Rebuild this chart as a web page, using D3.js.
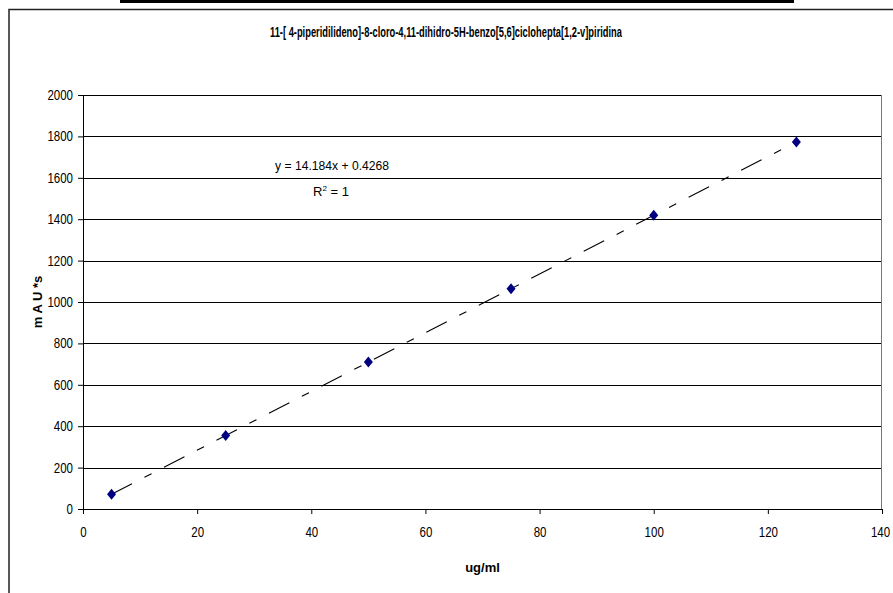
<!DOCTYPE html>
<html>
<head>
<meta charset="utf-8">
<script src="https://cdn.jsdelivr.net/npm/d3@7"></script>
<style>
  body { margin: 0; background: #fff; }
  text { font-family: "Liberation Sans", Arial, sans-serif; fill: #000; }
</style>
</head>
<body>
<script>
var W = 893, H = 593;
var margin = {top: 95, right: 11, bottom: 84, left: 83}
  , width = W - margin.left - margin.right
  , height = H - margin.top - margin.bottom;

// data
var concentracion = [5, 25, 50, 75, 100, 125];   // ug/ml
var area = [71, 355, 710, 1064, 1419, 1773];     // mAU*s
var xTicks = [0, 20, 40, 60, 80, 100, 120, 140];
var yTicks = [0, 200, 400, 600, 800, 1000, 1200, 1400, 1600, 1800, 2000];
var pendiente = 14.184, intercepto = 0.4268;

var svg = d3.select("body").append("svg")
    .attr("width", W)
    .attr("height", H);

// black bar at the very top
svg.append("rect")
    .attr("x", 120).attr("y", 0)
    .attr("width", 674).attr("height", 3)
    .style("fill", "#000");

// chart frame
svg.append("rect")
    .attr("x", 9).attr("y", 9.5)
    .attr("width", W + 20).attr("height", H + 20)
    .style("fill", "none")
    .style("stroke", "#222")
    .style("stroke-width", 1.5);

svg.append("text")
    .attr("x", 446).attr("y", 37)
    .attr("text-anchor", "middle")
    .attr("textLength", 352)
    .attr("lengthAdjust", "spacingAndGlyphs")
    .style("font-size", "14px")
    .style("font-weight", "bold")
    .text("11-[ 4-piperidilideno]-8-cloro-4,11-dihidro-5H-benzo[5,6]ciclohepta[1,2-v]piridina");

var g = svg.append("g")
    .attr("transform", "translate(" + margin.left + "," + margin.top + ")");

var x = d3.scaleLinear().domain([0, 140]).range([0, width]);
var y = d3.scaleLinear().domain([0, 2000]).range([height, 0]);

// horizontal gridlines
g.selectAll(".grid")
    .data(yTicks.slice(1))
    .enter().append("line")
    .attr("class", "grid")
    .attr("x1", 0).attr("x2", width)
    .attr("y1", function(d) { return Math.round(y(d)) + 0.5; })
    .attr("y2", function(d) { return Math.round(y(d)) + 0.5; })
    .style("stroke", "#000")
    .style("stroke-width", 1);

// right edge of plot area
g.append("line")
    .attr("x1", width - 0.5).attr("x2", width - 0.5)
    .attr("y1", 0).attr("y2", height)
    .style("stroke", "#777");

var xAxis = g.append("g")
    .attr("transform", "translate(0," + height + ")")
    .call(d3.axisBottom(x).tickValues(xTicks).tickSize(5).tickPadding(13).tickFormat(d3.format("d")));
var yAxis = g.append("g")
    .call(d3.axisLeft(y).tickValues(yTicks).tickSize(5).tickPadding(5).tickFormat(d3.format("d")));

[xAxis, yAxis].forEach(function(a) {
    a.selectAll("text")
        .style("font-size", "14px")
        .style("font-family", "'Liberation Sans', Arial, sans-serif")
        .attr("textLength", function(d) { return String(d).length * 6.4; })
        .attr("lengthAdjust", "spacingAndGlyphs");
    a.selectAll("line, path").style("stroke", "#000");
});
// keep the last x label inside the window
xAxis.selectAll("text").filter(function(d) { return d === 140; }).attr("dx", -2);

// trend line
g.append("line")
    .attr("x1", x(concentracion[0]))
    .attr("y1", y(pendiente * concentracion[0] + intercepto))
    .attr("x2", x(concentracion[concentracion.length - 1]))
    .attr("y2", y(pendiente * concentracion[concentracion.length - 1] + intercepto))
    .style("stroke", "#000")
    .style("stroke-width", 1.1)
    .style("stroke-dasharray", "23,14,8,14");

// diamond markers
g.selectAll(".pt")
    .data(concentracion)
    .enter().append("path")
    .attr("class", "pt")
    .attr("transform", function(d, i) { return "translate(" + x(d) + "," + y(area[i]) + ")"; })
    .attr("d", "M0,-5.5L4.5,0L0,5.5L-4.5,0Z")
    .style("fill", "#000080");

// equation
g.append("text")
    .attr("x", 332 - margin.left).attr("y", 170 - margin.top)
    .attr("text-anchor", "middle")
    .attr("textLength", 114)
    .attr("lengthAdjust", "spacingAndGlyphs")
    .style("font-size", "13px")
    .text("y = 14.184x + 0.4268");
var r2 = g.append("text")
    .attr("x", 331 - margin.left).attr("y", 196 - margin.top)
    .attr("text-anchor", "middle")
    .style("font-size", "13px");
r2.append("tspan").text("R");
r2.append("tspan").attr("dy", -5).style("font-size", "8px").text("2");
r2.append("tspan").attr("dy", 5).text(" = 1");

// axis titles
svg.append("text")
    .attr("text-anchor", "middle")
    .attr("transform", "translate(41.5," + (margin.top + height / 2) + ")rotate(-90)")
    .style("font-size", "13px")
    .style("font-weight", "bold")
    .text("m A U *s");

svg.append("text")
    .attr("text-anchor", "middle")
    .attr("x", margin.left + width / 2)
    .attr("y", 572)
    .style("font-size", "13px")
    .style("font-weight", "bold")
    .text("ug/ml");
</script>
</body>
</html>
